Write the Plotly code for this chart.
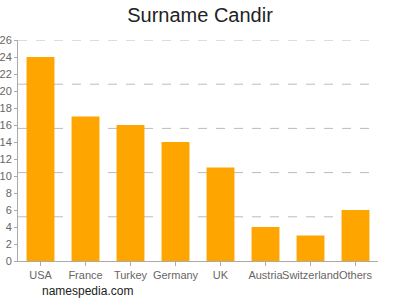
import plotly.graph_objects as go

categories = ["USA", "France", "Turkey", "Germany", "UK", "Austria", "Switzerland", "Others"]
values = [24, 17, 16, 14, 11, 4, 3, 6]
y_ticks = list(range(0, 27, 2))
y_max = 26
grid_vals = [y_max * i / 5 for i in range(1, 6)]

fig = go.Figure()
fig.add_trace(go.Bar(x=categories, y=values, marker=dict(color="#FFA500", line=dict(width=0)),
                     width=0.62, hoverinfo="skip"))

grid_shapes = [dict(type="line", xref="paper", yref="y", x0=0, x1=1, y0=g, y1=g,
                    layer="below", line=dict(color="#bbb", width=1, dash="dash"))
               for g in grid_vals]

fig.update_layout(
    width=400, height=300,
    margin=dict(l=18, r=22, t=40, b=39, autoexpand=False),
    paper_bgcolor="white", plot_bgcolor="white",
    showlegend=False,
    title=dict(text="Surname Candir", x=0.5, xanchor="center", y=0.95, yanchor="middle",
               font=dict(family="Arial, Liberation Sans", size=20, color="#222")),
    font=dict(family="Arial, Liberation Sans", size=11, color="#666"),
    xaxis=dict(showline=True, linecolor="#aaa", linewidth=1, ticks="outside", ticklen=4,
               tickcolor="#aaa", tickfont=dict(size=11, color="#666"), showgrid=False,
               range=[-0.5, 7.5], tickangle=0, automargin=False),
    yaxis=dict(range=[0, y_max], tickvals=y_ticks, showline=True, linecolor="#aaa", linewidth=1,
               ticks="outside", ticklen=3, tickcolor="#aaa", showgrid=False, zeroline=False,
               tickfont=dict(size=11, color="#666"), automargin=False),
    shapes=grid_shapes,
    annotations=[dict(text="namespedia.com", xref="paper", yref="paper",
                      x=(40 - 18) / 360, y=-(291 - 261) / 221, xanchor="left",
                      yanchor="middle", showarrow=False,
                      font=dict(family="Arial, Liberation Sans", size=12, color="#222"))],
)
fig.write_html("out.html")
